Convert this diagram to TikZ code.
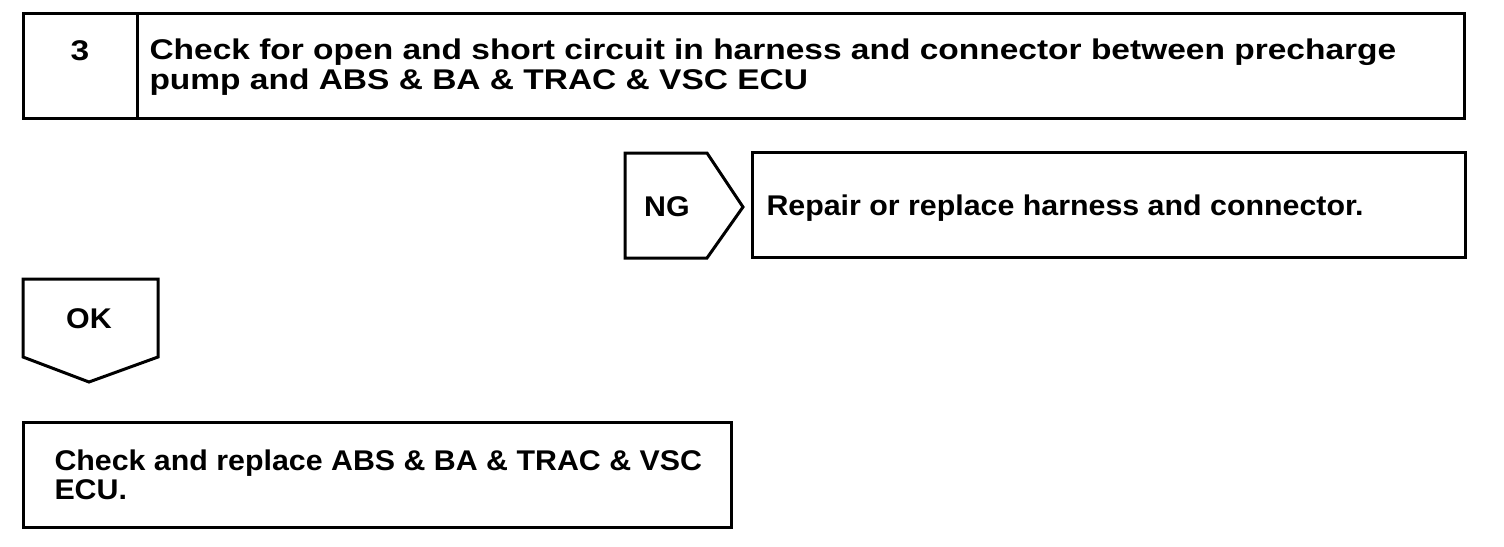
\documentclass[tikz,border=0pt]{standalone}
\usepackage{fontspec}
\setmainfont{Liberation Sans}
\newfontfamily\wideA[FakeStretch=1.175]{Liberation Sans}
\newfontfamily\wideB[FakeStretch=1.065]{Liberation Sans}
\begin{document}
\begin{tikzpicture}[x=1pt,y=-1pt,line width=3pt,
  lbl/.style={font=\wideB\fontsize{28.5}{29}\bfseries\selectfont,inner sep=0pt},
  hdr/.style={font=\wideA\fontsize{28.5}{29}\bfseries\selectfont,inner sep=0pt},
  box/.style={draw,line join=miter}]
\useasboundingbox (0,0) rectangle (1504,546);
% top step box
\draw[box] (23,13) rectangle (1464,118);
\draw (137,13) -- (137,118);
\node[hdr,anchor=base] (n3) at (80,60) {3};
\node[hdr,anchor=base west] (t1) at (148,59) {Check for open and short circuit in harness and connector between precharge};
\node[hdr,anchor=base west] (t2) at (148,89) {pump and ABS \& BA \& TRAC \& VSC ECU};
% NG
\draw[box] (625,153) -- (707,153) -- (743,207) -- (707,258) -- (625,258) -- cycle;
\node[lbl,anchor=base] (ng) at (667,216) {NG};
\draw[box] (752,152) rectangle (1465,257);
\node[lbl,anchor=base west] (rep) at (765,215) {Repair or replace harness and connector.};
% OK
\draw[box] (23,279) -- (158,279) -- (158,357) -- (89,382) -- (23,357) -- cycle;
\node[lbl,anchor=base] (ok) at (89,328) {OK};
% bottom box
\draw[box] (23,422) rectangle (731,527);
\node[lbl,anchor=base west] (b1) at (53,470) {Check and replace ABS \& BA \& TRAC \& VSC};
\node[lbl,anchor=base west] (b2) at (53,499) {ECU.};
\end{tikzpicture}
\end{document}
